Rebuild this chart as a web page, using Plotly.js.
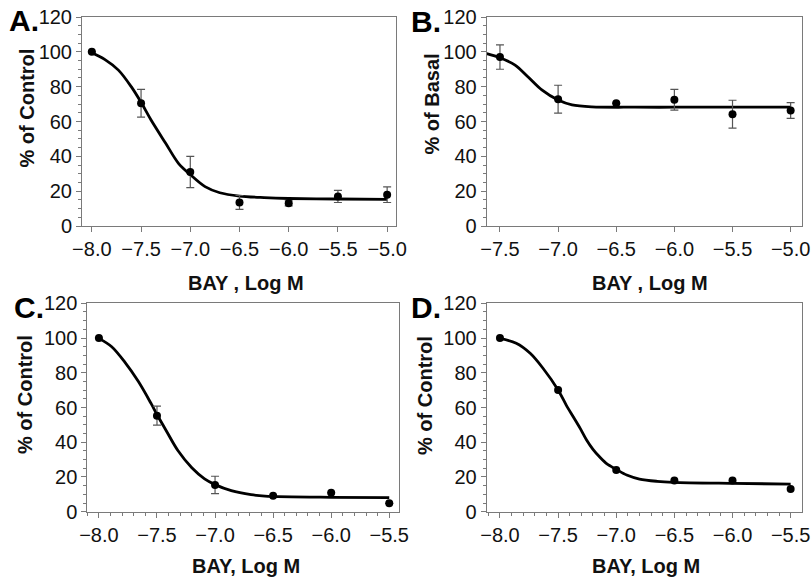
<!DOCTYPE html>
<html>
<head>
<meta charset="utf-8">
<script src="https://cdn.plot.ly/plotly-3.0.1.min.js"></script>
<style>html,body{margin:0;padding:0;background:#fff;}#chart{width:811px;height:583px;}</style>
</head>
<body>
<div id="chart"></div>
<script>
// ---- Panel A ----
var aX = [-8.0, -7.5, -7.0, -6.5, -6.0, -5.5, -5.0];
var aY = [100, 70.5, 31, 13.5, 13, 17, 18];
var aErr = [null, 8, 9, 4, 1.5, 3.5, 4.5];
var aCurveX = [-8.0, -7.87, -7.73, -7.6, -7.5, -7.4, -7.25, -7.12, -7.0, -6.85, -6.7, -6.5, -6.25, -6.0, -5.5, -5.0];
var aCurveY = [99.5, 95.7, 89.5, 80, 71, 61, 47.5, 36, 29.5, 22.6, 19.1, 17.2, 16.3, 15.8, 15.5, 15.3];

// ---- Panel B ----
var bX = [-7.5, -7.0, -6.5, -6.0, -5.5, -5.0];
var bY = [97, 72.8, 70.5, 72.5, 64.2, 66.3];
var bErr = [7, 8, null, 6, 8, 4.5];
var bCurveX = [-7.614, -7.5, -7.37, -7.26, -7.14, -7.0, -6.88, -6.71, -6.34, -6.0, -5.5, -5.0];
var bCurveY = [99.0, 96.6, 92.4, 85.7, 78.1, 72.3, 69.5, 68.4, 68.2, 68.2, 68.2, 68.2];

// ---- Panel C ----
var cX = [-8.0, -7.5, -7.0, -6.5, -6.0, -5.5];
var cY = [100, 55.3, 15.4, 9.2, 10.9, 4.8];
var cErr = [null, 5.5, 5, null, null, null];
var cCurveX = [-8.0, -7.89, -7.78, -7.66, -7.55, -7.5, -7.43, -7.32, -7.2, -7.09, -7.0, -6.86, -6.69, -6.57, -6.0, -5.5];
var cCurveY = [99.8, 95, 86.4, 74.9, 62.2, 56, 47.8, 35.2, 25.3, 18.9, 15.6, 12.1, 9.8, 9.0, 8.3, 8.1];

// ---- Panel D ----
var dX = [-8.0, -7.5, -7.0, -6.5, -6.0, -5.5];
var dY = [100, 70.1, 24, 18, 18, 13];
var dCurveX = [-8.0, -7.86, -7.74, -7.63, -7.5, -7.43, -7.37, -7.31, -7.255, -7.2, -7.14, -7.08, -7.0, -6.91, -6.8, -6.65, -6.51, -6.0, -5.5];
var dCurveY = [99.8, 97, 91.2, 82.6, 70.1, 61.4, 54.7, 48.0, 41.3, 35.9, 31.3, 27.5, 24.4, 21.1, 18.8, 17.5, 16.9, 16.3, 15.9];

// ---- Text ----
var panelLetters = ["A.", "B.", "C.", "D."];
var xTitles = ["BAY , Log M", "BAY , Log M", "BAY, Log M", "BAY, Log M"];
var yTitles = ["% of Control", "% of Basal", "% of Control", "% of Control"];

var FONT = "Liberation Sans, Arial, Helvetica, sans-serif";
var frameColor = "#7a7a7a";

function curve(x, y, n) {
  return {x: x, y: y, xaxis: "x" + n, yaxis: "y" + n, type: "scatter", mode: "lines",
    line: {color: "#000", width: 2.8, shape: "spline", smoothing: 0.9}, hoverinfo: "skip", showlegend: false};
}
function pts(x, y, err, n) {
  var t = {x: x, y: y, xaxis: "x" + n, yaxis: "y" + n, type: "scatter", mode: "markers",
    marker: {color: "#000", size: 8}, showlegend: false, cliponaxis: false};
  if (err) t.error_y = {type: "data", array: err, visible: true, color: "#555", thickness: 1.2, width: 4};
  return t;
}

var data = [
  curve(aCurveX, aCurveY, ""), pts(aX, aY, aErr, ""),
  curve(bCurveX, bCurveY, "2"), pts(bX, bY, bErr, "2"),
  curve(cCurveX, cCurveY, "3"), pts(cX, cY, cErr, "3"),
  curve(dCurveX, dCurveY, "4"), pts(dX, dY, null, "4")
];

function xax(domain, range, anchor, minor) {
  var a = {domain: domain, range: range, anchor: anchor, tickmode: "linear", tick0: -8, dtick: 0.5, tickformat: ".1f",
    showgrid: false, zeroline: false, showline: true, mirror: true, linecolor: frameColor, linewidth: 1,
    ticks: "outside", ticklen: 5, tickcolor: frameColor, tickwidth: 1,
    tickfont: {family: FONT, size: 20, color: "#111"}, fixedrange: true};
  if (minor) a.minor = {tickmode: "linear", dtick: 0.1, tick0: -8, ticks: "outside", ticklen: 3, tickcolor: frameColor, tickwidth: 1, showgrid: false};
  return a;
}
function yax(domain, anchor) {
  return {domain: domain, range: [0, 120], anchor: anchor, tickmode: "linear", tick0: 0, dtick: 20,
    showgrid: false, zeroline: false, showline: true, mirror: true, linecolor: frameColor, linewidth: 1,
    ticks: "outside", ticklen: 5, tickcolor: frameColor, tickwidth: 1,
    minor: {tickmode: "linear", tick0: 0, dtick: 5, ticks: "outside", ticklen: 3, tickcolor: frameColor, tickwidth: 1, showgrid: false},
    tickfont: {family: FONT, size: 20, color: "#111"}, fixedrange: true};
}

var W = 811, H = 583;
function px(x) { return x / W; }
function py(y) { return 1 - y / H; }

var topY = [py(226), py(17)];
var botY = [py(511.7), py(303.3)];

var layout = {
  width: W, height: H, margin: {l: 0, r: 0, t: 0, b: 0},
  paper_bgcolor: "#fff", plot_bgcolor: "#fff", showlegend: false,
  font: {family: FONT, color: "#111"},
  xaxis: xax([px(82), px(396)], [-8.10, -4.91], "y", false),
  yaxis: yax(topY, "x"),
  xaxis2: xax([px(486.7), px(801.7)], [-7.614, -4.905], "y2", false),
  yaxis2: yax(topY, "x2"),
  xaxis3: xax([px(87.3), px(399)], [-8.10, -5.416], "y3", true),
  yaxis3: yax(botY, "x3"),
  xaxis4: xax([px(486.7), px(801.7)], [-8.114, -5.405], "y4", true),
  yaxis4: yax(botY, "x4"),
  annotations: []
};

var letterPos = [[7, 21], [409, 22], [12, 307.5], [409, 307.5]];
var xTitlePos = [[246, 283], [650, 283], [246, 566], [646, 566]];
var yTitlePos = [[27, 108.5], [432, 104.5], [25, 395], [425, 395]];
for (var i = 0; i < 4; i++) {
  layout.annotations.push({text: "<b>" + panelLetters[i] + "</b>", xref: "paper", yref: "paper", x: px(letterPos[i][0]), y: py(letterPos[i][1]),
    xanchor: "left", yanchor: "middle", showarrow: false, font: {family: FONT, size: 30, color: "#000"}});
  layout.annotations.push({text: "<b>" + xTitles[i] + "</b>", xref: "paper", yref: "paper", x: px(xTitlePos[i][0]), y: py(xTitlePos[i][1]),
    xanchor: "center", yanchor: "middle", showarrow: false, font: {family: FONT, size: 20, color: "#111"}});
  layout.annotations.push({text: "<b>" + yTitles[i] + "</b>", xref: "paper", yref: "paper", x: px(yTitlePos[i][0]), y: py(yTitlePos[i][1]),
    xanchor: "center", yanchor: "middle", textangle: -90, showarrow: false, font: {family: FONT, size: 20, color: "#111"}});
}

Plotly.newPlot("chart", data, layout, {displayModeBar: false, staticPlot: true});
</script>
</body>
</html>
